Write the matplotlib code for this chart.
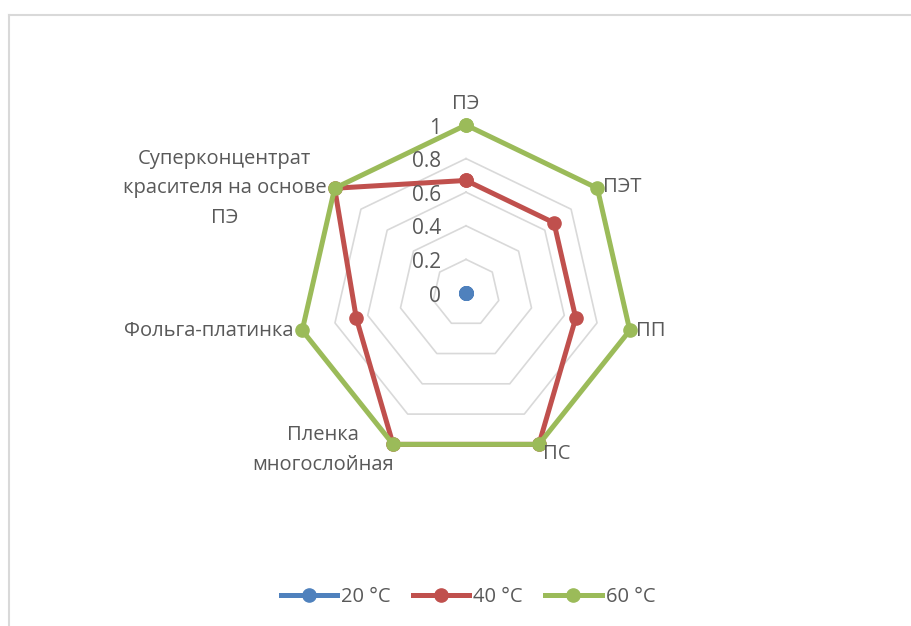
import numpy as np
import matplotlib
matplotlib.use('Agg')
import matplotlib.pyplot as plt
from matplotlib.lines import Line2D

# Данные
categorias = ['ПЭ', 'ПЭТ', 'ПП', 'ПС', 'Пленка\nмногослойная', 'Фольга-платинка',
              'Суперконцентрат\nкрасителя на основе\nПЭ']
t20 = [0, 0, 0, 0, 0, 0, 0]
t40 = [0.67, 0.67, 0.67, 1, 1, 0.67, 1]
t60 = [1, 1, 1, 1, 1, 1, 1]
series = ['20 °C', '40 °C', '60 °C']
colores = ['#4F81BD', '#C0504D', '#9BBB59']
ticks = [0, 0.2, 0.4, 0.6, 0.8, 1]
tick_labels = ['0', '0.2', '0.4', '0.6', '0.8', '1']

plt.rcParams['font.family'] = ['Open Sans', 'DejaVu Sans']
txt_color = '#595959'
fs = 14.5

fig = plt.figure(figsize=(9.12, 6.26), dpi=100)

# marco
W, H = 912, 626
fig.add_artist(Line2D([9 / W, 1], [1 - 15 / H, 1 - 15 / H], color='#D9D9D9', lw=1.5))
fig.add_artist(Line2D([9 / W, 9 / W], [0, 1 - 15 / H], color='#D9D9D9', lw=1.5))

cx, cy, R = 466 / W, 1 - 293 / H, 168
ax = fig.add_axes([cx - R / W, cy - R / H, 2 * R / W, 2 * R / H], projection='polar')
ax.set_theta_offset(np.pi / 2)
ax.set_theta_direction(-1)
ax.set_ylim(0, 1)
ax.set_xticks([])
ax.set_yticks([])
ax.grid(False)
ax.spines['polar'].set_visible(False)
ax.patch.set_alpha(0)

n = len(categorias)
ang = np.linspace(0, 2 * np.pi, n, endpoint=False)
ang_c = np.append(ang, ang[0])

# grilla heptagonal
for t in ticks[1:]:
    ax.plot(ang_c, [t] * (n + 1), color='#D9D9D9', lw=1.2, zorder=1, clip_on=False)

for vals, nombre, col in zip([t20, t40, t60], series, colores):
    v = np.append(vals, vals[0])
    ax.plot(ang_c, v, color=col, lw=3.6, marker='o', markersize=9.5, label=nombre,
            zorder=3, clip_on=False)

# etiquetas del eje
for t, lab in zip(ticks, tick_labels):
    ax.annotate(lab, xy=(0, t), xytext=(-25, -3), textcoords='offset pixels',
                ha='right', va='center', fontsize=15, color=txt_color)

# etiquetas de categorías
offs = [(0, 21), (6, 1), (6, -1), (4, -10), (-70, -6), (-9, -1), (-110, 0)]
has = ['center', 'left', 'left', 'left', 'center', 'right', 'center']
for a, lab, o, h in zip(ang, categorias, offs, has):
    ax.annotate(lab, xy=(a, 1), xytext=o, textcoords='offset pixels',
                ha=h, va='center', ma='center', fontsize=fs, color=txt_color,
                linespacing=1.65)

fig.legend(loc='center', bbox_to_anchor=(468 / W, 1 - 597 / H), ncol=3, frameon=False,
           fontsize=fs, handlelength=2.8, columnspacing=1.1, handletextpad=0.2,
           labelcolor=txt_color)

fig.savefig('out.png', dpi=100)
